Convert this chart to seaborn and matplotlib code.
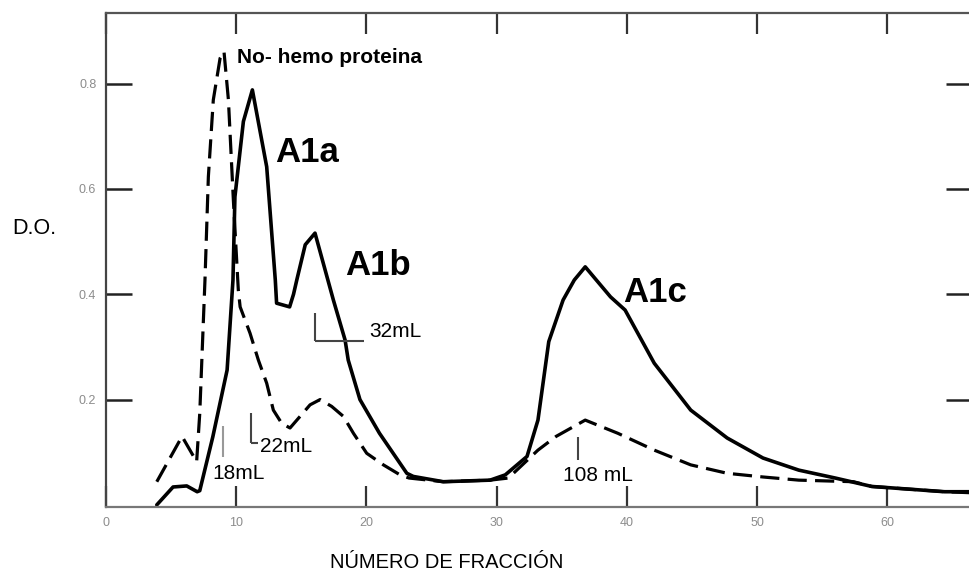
import matplotlib
matplotlib.use("Agg")
import matplotlib.pyplot as plt
import seaborn as sns

# ---- data ----
# Solid curve: hemo-protein fractions (A1a, A1b, A1c)
sol_x = [3.9, 5.15, 6.2, 7.0, 7.2, 8.2, 9.3, 9.5, 9.75, 9.9, 10.55, 11.24, 12.34,
         13.0, 13.1, 14.1, 14.4, 14.65, 15.3, 16.05, 17.46, 18.36, 18.6, 19.5, 21.0,
         23.1, 23.6, 25.9, 29.5, 30.66, 32.33, 33.17, 34.0, 35.1, 35.96, 36.8, 38.74,
         39.86, 42.1, 44.9, 47.7, 50.45, 53.2, 56.0, 58.8, 61.6, 64.4, 66.5]
sol_y = [0.0, 0.034, 0.036, 0.025, 0.027, 0.129, 0.256, 0.332, 0.427, 0.585, 0.728,
         0.788, 0.642, 0.427, 0.383, 0.376, 0.40, 0.427, 0.494, 0.516, 0.389, 0.313,
         0.275, 0.20, 0.136, 0.06, 0.054, 0.044, 0.047, 0.057, 0.092, 0.161, 0.31,
         0.389, 0.427, 0.452, 0.395, 0.37, 0.269, 0.18, 0.127, 0.089, 0.066, 0.051,
         0.035, 0.03, 0.025, 0.025]

# Dashed curve: non-hemo protein
dash_x = [3.9, 5.68, 5.84, 6.96, 7.2, 7.47, 7.6, 7.86, 8.24, 8.76, 9.06, 9.4, 9.78,
          10.16, 10.3, 11.06, 11.7, 12.34, 12.85, 13.49, 14.13, 14.9, 15.67, 16.44,
          17.33, 18.23, 19.0, 20.02, 21.3, 22.58, 23.27, 25.9, 29.5, 30.9, 33.17,
          34.56, 36.8, 39.3, 42.1, 44.9, 47.7, 50.45, 53.2, 57.4, 58.8, 61.6, 64.4, 66.5]
dash_y = [0.044, 0.123, 0.13, 0.082, 0.174, 0.345, 0.427, 0.623, 0.769, 0.848, 0.861,
          0.769, 0.579, 0.408, 0.376, 0.326, 0.275, 0.231, 0.18, 0.155, 0.146, 0.168,
          0.19, 0.20, 0.187, 0.168, 0.136, 0.098, 0.076, 0.057, 0.051, 0.044, 0.047,
          0.051, 0.104, 0.13, 0.161, 0.136, 0.104, 0.076, 0.06, 0.053, 0.047, 0.044,
          0.035, 0.03, 0.025, 0.023]

x_ticks = [0, 10, 20, 30, 40, 50, 60]
x_ticklabels = ["0", "10", "20", "30", "40", "50", "60"]
y_ticks = [0.2, 0.4, 0.6, 0.8]
y_ticklabels = ["0.2", "0.4", "0.6", "0.8"]

peak_labels = ["A1a", "A1b", "A1c"]
peak_x = [12.98, 18.36, 39.7]
peak_y = [0.651, 0.437, 0.386]

nonhemo_label = "No- hemo proteina"
nonhemo_pos = (10.04, 0.84)

vol_labels = ["18mL", "22mL", "32mL", "108 mL"]
vol_frac = [9.0, 11.11, 16.05, 36.25]          # fraction where the volume mark sits
vol_mark_top = [0.15, 0.175, 0.365, 0.129]
vol_mark_bot = [0.091, 0.117, 0.312, 0.085]
vol_foot_end = [None, 11.67, 19.8, None]        # horizontal foot of bracket
vol_text_x = [8.14, 11.83, 20.2, 35.1]
vol_text_y = [0.049, 0.101, 0.319, 0.046]

x_label = "NÚMERO DE FRACCIÓN"
y_label = "D.O."

# ---- figure ----
sns.set_theme(style="white")
plt.rcParams["font.family"] = ["Liberation Sans", "DejaVu Sans"]

W, H = 969, 576
fig = plt.figure(figsize=(W / 100, H / 100), dpi=100)
ax = fig.add_axes([106 / W, (H - 507) / H, (972 - 106) / W, (507 - 13) / H])

sns.lineplot(x=sol_x, y=sol_y, ax=ax, color="black", linewidth=2.6,
             sort=False, estimator=None)
sns.lineplot(x=dash_x, y=dash_y, ax=ax, color="black", linewidth=2.3,
             sort=False, estimator=None)
ax.lines[-1].set_dashes([6, 2.6])

ax.set_xlim(0, 66.5)
ax.set_ylim(-0.004, 0.934)

ax.set_xticks(x_ticks)
ax.set_xticklabels(x_ticklabels)
ax.set_yticks(y_ticks)
ax.set_yticklabels(y_ticklabels)
ax.tick_params(axis="x", direction="in", top=True, bottom=True, length=15,
               width=1.6, color="#333333", labelcolor="#8c8c8c", labelsize=9, pad=7)
ax.tick_params(axis="y", direction="in", left=True, right=True, length=19,
               width=1.8, color="#222222", labelcolor="#8c8c8c", labelsize=9, pad=7)

for side, col in [("left", "#444444"), ("bottom", "#777777"),
                  ("top", "#555555"), ("right", "#555555")]:
    ax.spines[side].set_color(col)
    ax.spines[side].set_linewidth(1.6)

ax.set_xlabel(x_label, fontsize=14.5, color="black")
ax.xaxis.set_label_coords((447 - 106) / 866, (507 - 553) / 494)
ax.set_ylabel(y_label, fontsize=15.5, rotation=0, ha="center", va="center",
              color="black")
ax.yaxis.set_label_coords((34 - 106) / 866, (507 - 228) / 494)

# peak labels
for lab, px, py in zip(peak_labels, peak_x, peak_y):
    ax.text(px, py, lab, fontsize=25, fontweight="bold", ha="left",
            va="baseline", color="black")

ax.text(nonhemo_pos[0], nonhemo_pos[1], nonhemo_label, fontsize=15,
        fontweight="bold", ha="left", va="baseline", color="black")

# volume marks
for lab, vx, yt, yb, fe, tx, ty in zip(vol_labels, vol_frac, vol_mark_top,
                                       vol_mark_bot, vol_foot_end,
                                       vol_text_x, vol_text_y):
    mcol = "#999999" if lab == "18mL" else "#444444"
    ax.vlines(vx, yb, yt, color=mcol, linewidth=1.5)
    if fe is not None:
        ax.hlines(yb, vx, fe, color=mcol, linewidth=1.5)
    ax.text(tx, ty, lab, fontsize=15, ha="left", va="baseline", color="black")

fig.savefig("out.png", dpi=100, facecolor="white")
